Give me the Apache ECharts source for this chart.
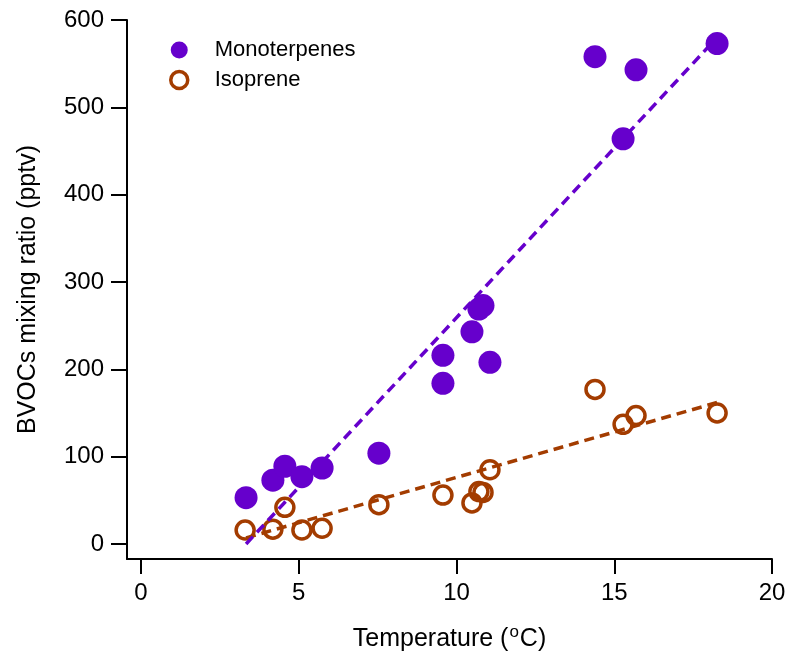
<!DOCTYPE html>
<html>
<head>
<meta charset="utf-8">
<script src="https://cdn.jsdelivr.net/npm/echarts@6/dist/echarts.min.js"></script>
<style>html,body{margin:0;padding:0;background:#fff}#c{width:791px;height:661px}</style>
</head>
<body>
<div id="c"></div>
<script>
var monoT = [3.33, 4.18, 4.56, 5.10, 5.74, 7.54, 9.57, 9.57, 10.49, 10.71, 10.84, 11.06, 14.39, 15.28, 15.69, 18.26];
var monoV = [53, 73, 89, 77, 87, 104, 216, 184, 243, 269, 273, 208, 558, 464, 543, 573];
var isoT = [3.30, 4.18, 4.56, 5.10, 5.74, 7.54, 9.57, 10.49, 10.71, 10.84, 11.06, 14.39, 15.28, 15.69, 18.26];
var isoV = [16, 17, 42, 16, 18, 45, 56, 47, 60, 59, 85, 177, 137, 147, 150];
var monoFitT = [3.33, 18.26];
var monoFitV = [0, 580];
var isoFitT = [3.33, 18.26];
var isoFitV = [7, 162];
var xTicks = [0, 5, 10, 15, 20];
var yTicks = [0, 100, 200, 300, 400, 500, 600];

var PURPLE = '#6600cc', BROWN = '#a33c00';
function zip(a, b) { return a.map(function (v, i) { return [v, b[i]]; }); }
var FONT = '"Liberation Sans", Arial, Helvetica, sans-serif';

var chart = echarts.init(document.getElementById('c'), null, { renderer: 'canvas' });
chart.setOption({
  animation: false,
  backgroundColor: '#fff',
  textStyle: { fontFamily: FONT, color: '#000' },
  grid: { left: 127, right: 19, top: 20, bottom: 102, containLabel: false },
  legend: {
    orient: 'vertical', left: 164, top: 34, itemWidth: 51, itemHeight: 17, itemGap: 8,
    textStyle: { fontSize: 22, color: '#000', fontFamily: FONT, padding: [0, 0, 0, 5] },
    data: [
      { name: 'Monoterpenes', icon: 'circle', itemStyle: { color: PURPLE, borderWidth: 0 } },
      { name: 'Isoprene', icon: 'circle', itemStyle: { color: '#fff', borderColor: BROWN, borderWidth: 3.5 } }
    ]
  },
  xAxis: {
    type: 'value', min: -0.444, max: 20,
    name: 'Temperature ({sup|o}C)', nameLocation: 'middle', nameGap: 65,
    nameTextStyle: { fontSize: 25, color: '#000', fontFamily: FONT,
      rich: { sup: { fontSize: 17, verticalAlign: 'top', padding: [0, 1, 14, 1], fontFamily: FONT } } },
    axisLine: { show: true, onZero: false, lineStyle: { color: '#000', width: 2 } },
    axisTick: { show: true, inside: false, length: 15, customValues: xTicks, lineStyle: { color: '#000', width: 2 } },
    axisLabel: { show: true, margin: 22, fontSize: 24, color: '#000', fontFamily: FONT, customValues: xTicks },
    splitLine: { show: false }
  },
  yAxis: {
    type: 'value', min: -17.2, max: 600,
    name: 'BVOCs mixing ratio (pptv)', nameLocation: 'middle', nameGap: 86,
    nameTextStyle: { fontSize: 25, color: '#000', fontFamily: FONT },
    axisLine: { show: true, onZero: false, lineStyle: { color: '#000', width: 2 } },
    axisTick: { show: true, inside: false, length: 16, customValues: yTicks, lineStyle: { color: '#000', width: 2 } },
    axisLabel: { show: true, margin: 23, fontSize: 24, color: '#000', fontFamily: FONT, customValues: yTicks },
    splitLine: { show: false }
  },
  series: [
    { name: 'IsoFit', type: 'line', data: zip(isoFitT, isoFitV), symbol: 'none', silent: true,
      lineStyle: { color: BROWN, width: 3.5, type: [10, 6] }, z: 2 },
    { name: 'Isoprene', type: 'scatter', data: zip(isoT, isoV), symbol: 'circle', symbolSize: 18,
      itemStyle: { color: 'rgba(255,255,255,0)', borderColor: BROWN, borderWidth: 3.5, opacity: 1 }, z: 3 },
    { name: 'MonoFit', type: 'line', data: zip(monoFitT, monoFitV), symbol: 'none', silent: true,
      lineStyle: { color: PURPLE, width: 3.5, type: [10, 6] }, z: 4 },
    { name: 'Monoterpenes', type: 'scatter', data: zip(monoT, monoV), symbol: 'circle', symbolSize: 23,
      itemStyle: { color: PURPLE, opacity: 1 }, z: 5 }
  ]
});
</script>
</body>
</html>
